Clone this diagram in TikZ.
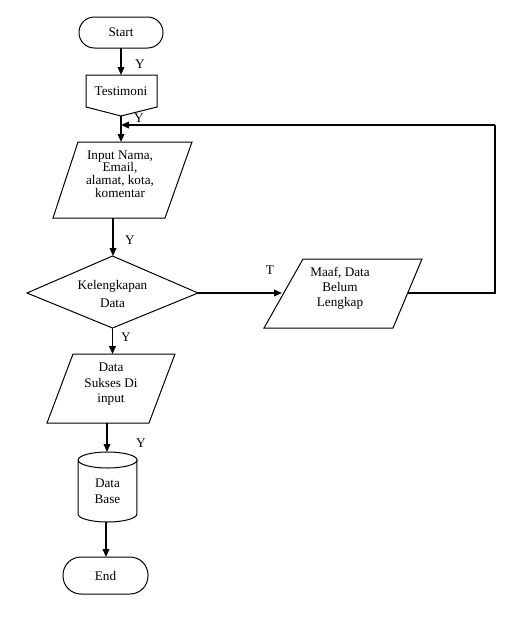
\documentclass[tikz,border=0pt]{standalone}
\usepackage{fontspec}
\setmainfont{Liberation Serif}
\usetikzlibrary{arrows.meta}
\begin{document}
\begin{tikzpicture}[x=0.75pt,y=-0.75pt,
 shp/.style={line width=0.75pt},
 con/.style={line width=1.2pt,-{Triangle[length=6pt,width=5pt]}},
 lin/.style={line width=0.9pt},
 txt/.style={align=center,inner sep=0pt,font=\fontsize{9.9}{11.3}\selectfont},
 lbl/.style={inner sep=0pt,font=\fontsize{9.9}{11}\selectfont}]
\useasboundingbox (0,0) rectangle (527,628);
% Start
\draw[shp,rounded corners=11.5pt] (79,17) rectangle (163,48);
\node[txt] (start) at (121,32.5) {Start};
\coordinate (startB) at (121,48);
% Testimoni
\draw[shp] (86,75) -- (157,75) -- (157,107) -- (121,116) -- (86,107) -- cycle;
\node[txt] (testi) at (121,91) {Testimoni};
\coordinate (testT) at (121,75);
\coordinate (testB) at (121,116);
\draw[con] (startB) -- (testT);
\node[lbl] (y1) at (140,64) {Y};
% Input
\draw[shp] (78,142) -- (192,142) -- (165,218) -- (53,218) -- cycle;
\node[txt,font=\fontsize{9.9}{9.5}\selectfont] (input) at (120,174) {Input Nama,\\Email,\\alamat, kota,\\komentar};
\coordinate (inT) at (121,142);
\coordinate (inB) at (113,218);
\coordinate (join) at (121,125);
\draw[con] (testB) -- (inT);
\node[lbl] (y2) at (139,118) {Y};
% Decision
\draw[shp] (27,293) -- (112.5,256) -- (198,293) -- (112.5,328) -- cycle;
\node[txt,font=\fontsize{9.9}{13}\selectfont] (dec) at (112.5,294) {Kelengkapan\\Data};
\coordinate (decT) at (113,256);
\coordinate (decR) at (198,293);
\coordinate (decB) at (112.5,328);
\draw[con] (inB) -- (decT);
\node[lbl] (y3) at (130,240) {Y};
% Maaf
\draw[shp] (303,259) -- (422,259) -- (393,328) -- (264,328) -- cycle;
\node[txt,font=\fontsize{9.9}{11.25}\selectfont] (maaf) at (340,288.5) {Maaf, Data\\Belum\\Lengkap};
\coordinate (maafL) at (282,293);
\coordinate (maafR) at (408,293);
\coordinate (c1) at (495,293);
\coordinate (c2) at (495,125);
\draw[con] (decR) -- (maafL);
\node[lbl] (t1) at (270,270) {T};
\draw[lin] (maafR) -- (c1) -- (c2);
\draw[lin,-{Triangle[length=6pt,width=5pt]}] (c2) -- (join);
% Sukses
\draw[shp] (73,354) -- (175,354) -- (149,423) -- (47,423) -- cycle;
\node[txt,font=\fontsize{9.9}{11.6}\selectfont] (sukses) at (111,384.5) {Data\\Sukses Di\\input};
\coordinate (sukT) at (112.5,354);
\coordinate (sukB) at (107,423);
\draw[con] (decB) -- (sukT);
\node[lbl] (y4) at (126,337) {Y};
% Database
\draw[shp] (78,460) -- (78,514) arc[start angle=180,end angle=360,x radius=22.1pt,y radius=6pt] -- (137,460) arc[start angle=0,end angle=180,x radius=22.1pt,y radius=6pt] arc[start angle=180,end angle=360,x radius=22.1pt,y radius=6pt];
\node[txt,font=\fontsize{9.9}{12}\selectfont] (db) at (107.5,491) {Data\\Base};
\coordinate (dbT) at (107,452);
\coordinate (dbB) at (106,522);
\draw[con] (sukB) -- (dbT);
\node[lbl] (y5) at (141,443) {Y};
% End
\draw[shp,rounded corners=13.5pt] (63,557) rectangle (148,594);
\node[txt] (end) at (105.5,575.5) {End};
\coordinate (endT) at (106,557);
\draw[con] (dbB) -- (endT);
\end{tikzpicture}
\end{document}
